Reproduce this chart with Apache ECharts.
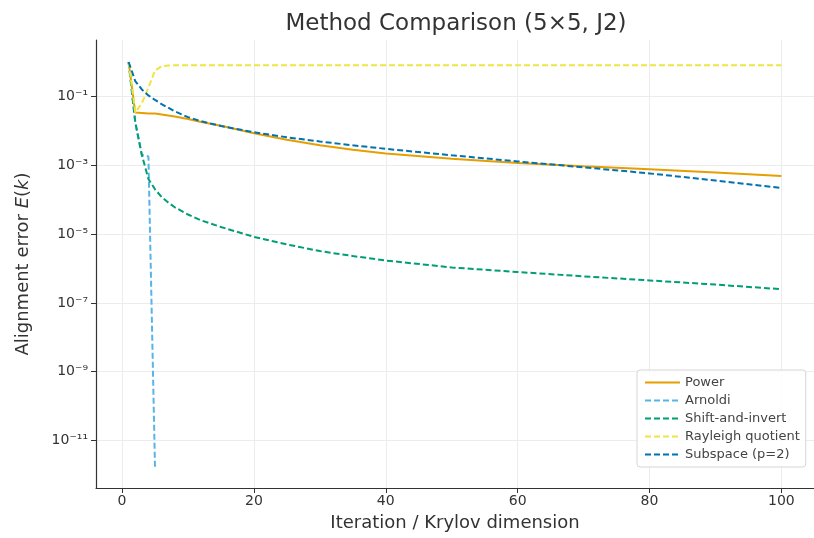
<!DOCTYPE html>
<html>
<head>
<meta charset="utf-8">
<script src="https://cdn.jsdelivr.net/npm/echarts@6/dist/echarts.min.js"></script>
<style>
  html, body { margin: 0; padding: 0; background: #fff; }
  #chart { width: 814px; height: 538px; }
</style>
</head>
<body>
<div id="chart"></div>
<script>
// iteration / Krylov dimension k and alignment error E(k)
const kMain = [1, 2, 3, 4, 5, 6, 7, 8, 10, 12, 15, 20, 25, 30, 35, 40, 50, 60, 70, 80, 90, 100]
const powerErr = [1.0, 3.4e-2, 3.3e-2, 3.2e-2, 3.2e-2, 3.0e-2, 2.8e-2, 2.6e-2, 2.2e-2, 1.8e-2, 1.4e-2,
  8.5e-3, 5.5e-3, 3.8e-3, 2.8e-3, 2.2e-3, 1.55e-3, 1.17e-3, 9.3e-4, 7.6e-4, 6.2e-4, 4.9e-4]
const subspaceErr = [1.0, 0.28, 0.16, 0.107, 0.079, 0.060, 0.047, 0.037, 0.025, 0.019, 0.0138,
  0.0091, 0.0065, 0.0049, 0.0038, 0.0030, 0.00195, 0.00129, 8.7e-4, 5.8e-4, 3.6e-4, 2.2e-4]
const shiftErr = [1.0, 1.8e-2, 2.0e-3, 4.0e-4, 2.0e-4, 1.2e-4, 8.3e-5, 6.0e-5, 3.7e-5, 2.5e-5, 1.6e-5,
  8.3e-6, 5.0e-6, 3.2e-6, 2.3e-6, 1.7e-6, 1.07e-6, 7.9e-7, 5.9e-7, 4.5e-7, 3.4e-7, 2.5e-7]
const kArnoldi = [1, 2, 3, 4, 5]
const arnoldiErr = [1.0, 1.8e-2, 2.0e-3, 1.8e-3, 1.6e-12]
const kRayleigh = [1, 2, 3, 4, 5, 6, 7, 8, 10, 20, 40, 60, 80, 100]
const rayleighErr = [1.0, 3.4e-2, 6.3e-2, 0.18, 0.56, 0.76, 0.79, 0.8, 0.8, 0.8, 0.8, 0.8, 0.8, 0.8]

const xTicks = [0, 20, 40, 60, 80, 100]
const yTickExp = [-11, -9, -7, -5, -3, -1]
const supDigits = { '-': '⁻', '0': '⁰', '1': '¹', '2': '²', '3': '³', '4': '⁴', '5': '⁵', '6': '⁶', '7': '⁷', '8': '⁸', '9': '⁹' }

const toPairs = (ks, vals) => ks.map((k, i) => [k, Math.log10(vals[i])])
const supLabel = v => '10' + String(Math.round(v)).split('').map(c => supDigits[c]).join('')

const font = 'DejaVu Sans'
const dash = [6, 3]
const mkLine = (name, ks, vals, color, type) => ({
  name,
  type: 'line',
  data: toPairs(ks, vals),
  showSymbol: false,
  symbol: 'none',
  lineStyle: { color, width: 2, type },
  itemStyle: { color },
  emphasis: { disabled: true },
  animation: false
})

const chart = echarts.init(document.getElementById('chart'))
chart.setOption({
  backgroundColor: '#fff',
  title: {
    text: 'Method Comparison (5×5, J2)',
    left: 451,
    textAlign: 'center',
    top: 8,
    textStyle: { fontFamily: font, fontSize: 23, fontWeight: 'normal', color: '#333' }
  },
  grid: { left: 96, top: 40, width: 726, height: 448 },
  legend: {
    orient: 'vertical',
    left: 637,
    top: 370,
    itemWidth: 35,
    itemHeight: 12,
    itemGap: 5,
    padding: [6, 6, 6, 7],
    backgroundColor: 'rgba(255,255,255,0.85)',
    borderColor: '#d6d6d6',
    borderWidth: 1,
    borderRadius: 3,
    itemStyle: { opacity: 0, borderWidth: 0 },
    textStyle: { fontFamily: font, fontSize: 13, color: '#444' },
    data: ['Power', 'Arnoldi', 'Shift-and-invert', 'Rayleigh quotient', 'Subspace (p=2)']
  },
  xAxis: {
    type: 'value',
    min: -3.95,
    max: 104.95,
    name: 'Iteration / Krylov dimension',
    nameLocation: 'middle',
    nameGap: 26,
    nameTextStyle: { fontFamily: font, fontSize: 18, color: '#333' },
    axisLine: { onZero: false, lineStyle: { color: '#333', width: 1.2 } },
    axisTick: { customValues: xTicks, length: 5, lineStyle: { color: '#333' } },
    axisLabel: { customValues: xTicks, fontFamily: font, fontSize: 14, color: '#333', margin: 6 },
    splitLine: { show: true, lineStyle: { color: '#ececec', width: 1 } }
  },
  yAxis: {
    type: 'value',
    min: -12.38,
    max: 0.64,
    name: '{n|Alignment error }{i|E}{n|(}{i|k}{n|)}',
    nameLocation: 'middle',
    nameGap: 64,
    nameTextStyle: {
      rich: {
        n: { fontFamily: font, fontSize: 18, color: '#333' },
        i: { fontFamily: font, fontSize: 18, fontStyle: 'italic', color: '#333' }
      }
    },
    axisLine: { show: true, onZero: false, lineStyle: { color: '#333', width: 1.2 } },
    axisTick: { show: true, customValues: yTickExp, length: 5, lineStyle: { color: '#333' } },
    axisLabel: {
      customValues: yTickExp,
      fontFamily: font,
      fontSize: 14,
      color: '#333',
      margin: 8,
      formatter: supLabel
    },
    splitLine: { show: true, lineStyle: { color: '#ececec', width: 1 } }
  },
  series: [
    mkLine('Power', kMain, powerErr, '#E69F00', 'solid'),
    mkLine('Arnoldi', kArnoldi, arnoldiErr, '#56B4E9', dash),
    mkLine('Shift-and-invert', kMain, shiftErr, '#009E73', dash),
    mkLine('Rayleigh quotient', kRayleigh, rayleighErr, '#F0E442', dash),
    mkLine('Subspace (p=2)', kMain, subspaceErr, '#0072B2', dash)
  ]
})
window.addEventListener('resize', () => chart.resize())
</script>
</body>
</html>
